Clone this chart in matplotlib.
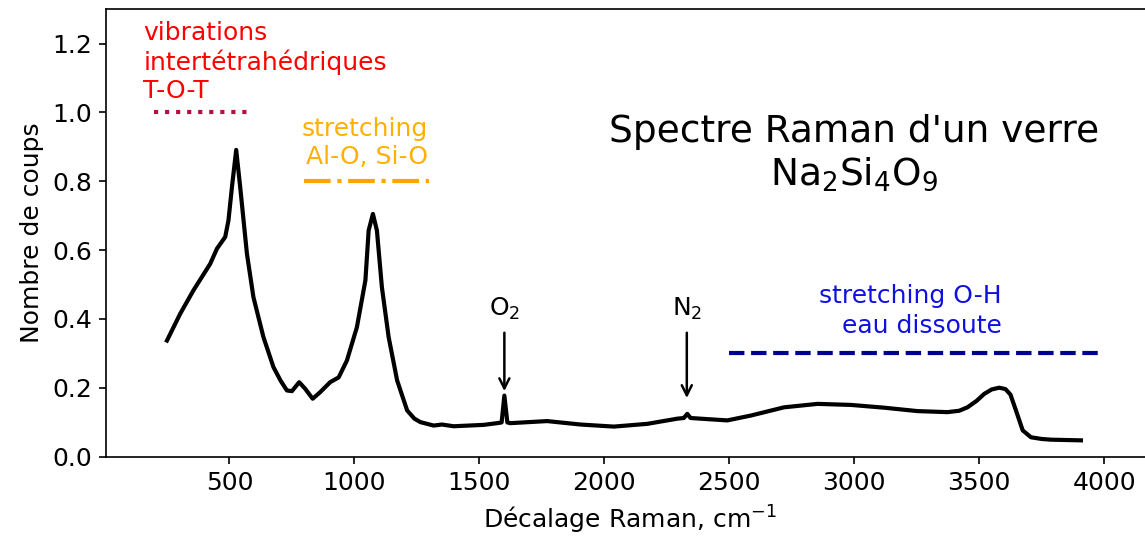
import numpy as np
import matplotlib
matplotlib.use('Agg')
import matplotlib.pyplot as plt

# spectre (cm-1, nombre de coups)
shift = [250, 303, 356, 423, 450, 483, 496, 510, 527, 543, 570, 596, 636, 676,
         705, 730, 750, 779, 803, 833, 863, 903, 937, 970, 1010, 1044, 1057,
         1074, 1090, 1110, 1137, 1171, 1211, 1240, 1264, 1317, 1350, 1397,
         1517, 1571, 1589, 1600, 1612, 1624, 1771, 1905, 2038, 2172, 2292,
         2318, 2332, 2345, 2385, 2492, 2586, 2719, 2853, 2986, 3119, 3253,
         3373, 3420, 3453, 3490, 3520, 3550, 3580, 3605, 3625, 3647, 3674,
         3707, 3750, 3787, 3907]
counts = [0.337, 0.415, 0.483, 0.560, 0.604, 0.638, 0.686, 0.783, 0.891, 0.783,
          0.589, 0.463, 0.347, 0.260, 0.220, 0.192, 0.190, 0.216, 0.197, 0.168,
          0.187, 0.216, 0.230, 0.279, 0.376, 0.512, 0.657, 0.705, 0.657, 0.492,
          0.347, 0.221, 0.134, 0.110, 0.100, 0.090, 0.093, 0.088, 0.092, 0.097,
          0.099, 0.177, 0.099, 0.097, 0.103, 0.093, 0.087, 0.095, 0.110, 0.112,
          0.124, 0.112, 0.110, 0.105, 0.119, 0.143, 0.153, 0.150, 0.142, 0.132,
          0.129, 0.133, 0.143, 0.162, 0.182, 0.195, 0.200, 0.196, 0.180, 0.134,
          0.076, 0.056, 0.051, 0.049, 0.047]

# bandes attribuées
tot_range = [200, 590]
tot_level = 1.0
sio_range = [800, 1300]
sio_level = 0.8
oh_range = [2500, 4000]
oh_level = 0.3

# pics des gaz
gas_names = ['O$_2$', 'N$_2$']
gas_pos = [1600, 2330]
gas_tip = [0.19, 0.17]

fig = plt.figure(figsize=(1145 / 150, 539 / 150), dpi=150)
ax = fig.add_axes([0.093, 0.153, 0.915, 0.830])

ax.plot(shift, counts, color='k', linewidth=2)

ax.plot(tot_range, [tot_level] * 2, ':', color='#b5103f', linewidth=2)
ax.text(155, 1.028, 'vibrations\nintertétrahédriques\nT-O-T', color='red',
        fontsize=12, ha='left', va='bottom')

ax.plot(sio_range, [sio_level] * 2, '-.', color='orange', linewidth=2)
ax.text(1295, 0.835, 'stretching\nAl-O, Si-O', color='#ffb000',
        fontsize=12, ha='right', va='bottom', multialignment='right')

ax.plot(oh_range, [oh_level] * 2, '--', color='#000090', linewidth=2)
ax.text(3590, 0.345, 'stretching O-H\neau dissoute', color='#1010e0',
        fontsize=12, ha='right', va='bottom', multialignment='right',
        linespacing=1.3)

for name, xp, yp in zip(gas_names, gas_pos, gas_tip):
    ax.annotate(name, xy=(xp, yp), xytext=(xp, 0.39), ha='center',
                va='bottom', fontsize=12,
                arrowprops=dict(arrowstyle='->', color='k', lw=1.2,
                                shrinkA=3, shrinkB=0))

ax.text(3000, 0.88, "Spectre Raman d'un verre\n$\\mathrm{Na_2Si_4O_9}$",
        fontsize=18, ha='center', va='center')

ax.set_xlim(8, 4200)
ax.set_ylim(0, 1.3)
ax.spines['right'].set_visible(False)
ax.set_xticks([500, 1000, 1500, 2000, 2500, 3000, 3500, 4000])
ax.set_yticks([0.0, 0.2, 0.4, 0.6, 0.8, 1.0, 1.2])
ax.tick_params(labelsize=12)
ax.set_xlabel('Décalage Raman, cm$^{-1}$', fontsize=12)
ax.set_ylabel('Nombre de coups', fontsize=12)

fig.savefig('out.png', dpi=150)
